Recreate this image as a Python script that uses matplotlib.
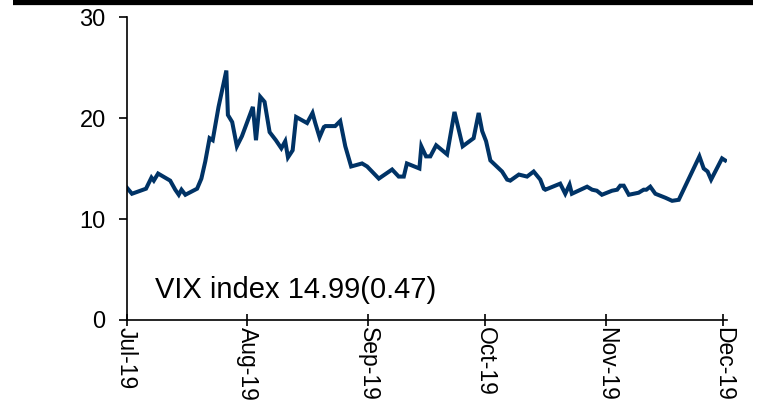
import matplotlib
matplotlib.use("Agg")
import matplotlib.pyplot as plt
import matplotlib.dates as mdates
import pandas as pd
from matplotlib.lines import Line2D

# ---- data ----
start_date = "2019-07-01"
day_offsets = [0.1, 1.4, 5.0, 6.4, 7.0, 8.1, 11.2, 12.5, 13.4, 14.1, 15.1, 18.1, 19.2,
               20.2, 21.3, 22.1, 23.6, 25.6, 26.0, 27.1, 28.3, 29.6, 32.4, 33.2, 34.3,
               35.4, 36.7, 38.3, 39.7, 40.7, 41.4, 42.6, 43.5, 46.3, 47.7, 48.4, 49.5,
               50.6, 51.0, 53.5, 54.8, 56.1, 57.6, 60.4, 61.7, 64.7, 68.1, 69.8, 71.1,
               71.9, 75.1, 75.6, 76.8, 77.9, 79.4, 82.2, 84.1, 86.2, 89.0, 90.3, 91.2,
               92.2, 93.3, 96.3, 97.6, 98.4, 100.6, 102.7, 104.4, 106.1, 107.0, 107.4,
               111.2, 112.5, 113.6, 114.2, 118.1, 119.4, 120.6, 121.9, 124.5, 125.8,
               126.6, 127.5, 128.8, 131.3, 132.6, 133.3, 134.3, 135.6, 138.2, 139.9,
               141.6, 146.9, 148.0, 149.0, 149.9, 152.7, 153.5]
vix = [13.1, 12.5, 13.0, 14.1, 13.8, 14.5, 13.8, 12.9, 12.4, 12.9, 12.4, 13.0, 14.0,
       15.7, 18.0, 17.8, 21.1, 24.7, 20.3, 19.6, 17.2, 18.2, 21.1, 17.8, 22.1,
       21.6, 18.6, 17.8, 17.0, 17.7, 16.1, 16.8, 20.1, 19.5, 20.5, 19.5, 18.1,
       19.1, 19.2, 19.2, 19.7, 17.2, 15.2, 15.5, 15.2, 14.0, 14.9, 14.2, 14.2,
       15.5, 15.0, 17.2, 16.2, 16.2, 17.3, 16.4, 20.6, 17.2, 18.0, 20.5, 18.7,
       17.7, 15.8, 14.7, 13.9, 13.8, 14.4, 14.2, 14.7, 13.9, 13.0, 12.9,
       13.5, 12.5, 13.4, 12.5, 13.2, 12.9, 12.8, 12.4, 12.8, 12.9,
       13.3, 13.3, 12.4, 12.6, 12.9, 12.9, 13.2, 12.5, 12.1, 11.8,
       11.9, 16.2, 15.0, 14.7, 13.9, 16.0, 15.8]
label_text = "VIX index 14.99(0.47)"
y_ticks = [0, 10, 20, 30]

dates = pd.Timestamp(start_date) + pd.to_timedelta(day_offsets, unit="D")

plt.rcParams["font.family"] = ["Liberation Sans", "DejaVu Sans"]

fig = plt.figure(figsize=(7.67, 4.19), dpi=100)
ax = fig.add_axes([126.5 / 767, 1 - 320 / 419, 600.6 / 767, 303 / 419])

ax.plot(dates, vix, color="#003366", lw=2.9, solid_joinstyle="miter")

x0 = pd.Timestamp(start_date)
ax.set_xlim(x0, x0 + pd.Timedelta(days=154))
ax.set_ylim(0, 30)
ax.set_yticks(y_ticks)

ax.xaxis.set_major_locator(mdates.MonthLocator())
ax.xaxis.set_major_formatter(mdates.DateFormatter("%b-%y"))

for s in ["top", "right"]:
    ax.spines[s].set_visible(False)
for s in ["left", "bottom"]:
    ax.spines[s].set_linewidth(1.2)
    ax.spines[s].set_color("black")

ax.tick_params(axis="y", direction="out", length=6, width=1.2, labelsize=17, pad=9)
ax.tick_params(axis="x", direction="inout", length=8, width=1.2, labelsize=16.5, pad=1)
for lab in ax.get_xticklabels():
    lab.set_rotation(270)
    lab.set_ha("center")
    lab.set_va("top")

ax.text(0.047, 0.073, label_text, transform=ax.transAxes, fontsize=21,
        ha="left", va="baseline")

# top black bar
fig.add_artist(Line2D([13 / 767, 753 / 767], [1 - 2.5 / 419, 1 - 2.5 / 419],
                      transform=fig.transFigure, color="black", lw=4.5,
                      solid_capstyle="butt"))

fig.savefig("out.png", dpi=100)
